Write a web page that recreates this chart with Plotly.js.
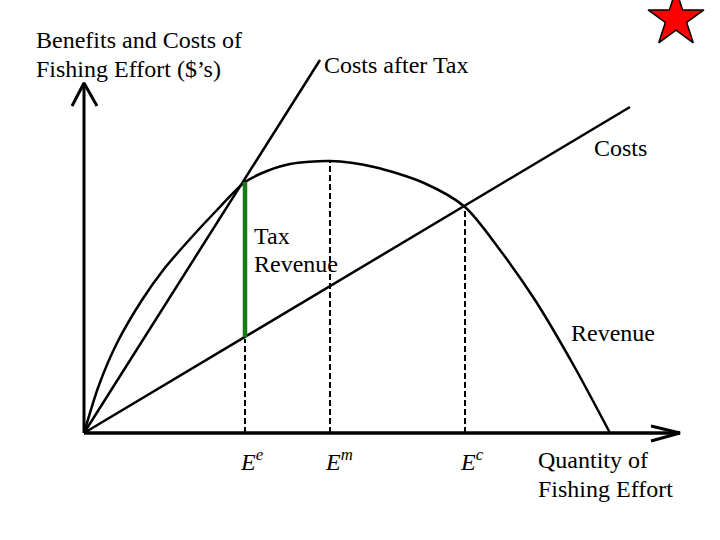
<!DOCTYPE html>
<html>
<head>
<meta charset="utf-8">
<script src="https://cdn.plot.ly/plotly-3.0.1.min.js"></script>
<style>html,body{margin:0;padding:0;background:#fff;}#chart{width:720px;height:540px;}</style>
</head>
<body>
<div id="chart"></div>
<script>
// Values in drawing units (origin at the axes' corner)
const revenueX = [0, 15, 33, 58, 80, 106, 133, 161, 183, 206, 246, 290, 340, 381, 416, 451, 490, 526];
const revenueY = [0, 48, 90, 133, 164, 194, 223, 251, 262, 269, 272, 266, 250, 226, 183, 133, 67, 0];
const costsX = [0, 546];
const costsY = [0, 326];
const taxCostsX = [0, 236];
const taxCostsY = [0, 373];
const effortNames = ["e", "m", "c"];
const effortX = [161, 246, 381];
const effortTop = [94, 272, 226];
const taxRevenueY = [96, 251];
const yAxisTop = 350;
const xAxisEnd = 596;

const black = "#000";
const traces = [];
const line = (x, y, w, extra) => ({
  x: x, y: y, mode: "lines", type: "scatter", hoverinfo: "skip",
  line: Object.assign({color: black, width: w}, extra || {})
});

// axes with arrows
traces.push(line([0, 0], [0, yAxisTop], 3));
traces.push(line([-12, 0, 13], [yAxisTop - 23, yAxisTop, yAxisTop - 23], 3));
traces.push(line([0, xAxisEnd], [0, 0], 3.5));
traces.push(line([xAxisEnd - 29, xAxisEnd, xAxisEnd - 29], [7, 0, -8], 3));

// dashed effort levels
effortX.forEach((x, i) => {
  traces.push(line([x, x], [0, effortTop[i]], 2, {dash: "6px,3px"}));
});

// revenue curve
traces.push(line(revenueX, revenueY, 2.5, {shape: "spline", smoothing: 0.8}));
// costs
traces.push(line(costsX, costsY, 2.5));
// costs after tax
traces.push(line(taxCostsX, taxCostsY, 2.5));
// tax revenue
traces.push(line([effortX[0], effortX[0]], taxRevenueY, 4.5, {color: "#177a17"}));

// star
traces.push({x: [592], y: [414], mode: "markers", type: "scatter", hoverinfo: "skip",
  marker: {symbol: "star", size: 42, color: "#ff0000", line: {color: black, width: 1.5}}});

const font = {family: "Liberation Serif, Times New Roman, serif", size: 24, color: black};
const ann = (x, y, text, extra) => Object.assign({
  x: x, y: y, xref: "x", yref: "y", text: text, showarrow: false,
  xanchor: "left", yanchor: "middle", align: "left", font: font
}, extra || {});

const annotations = [
  ann(-50, 393, "Benefits and Costs of"),
  ann(-50, 364, "Fishing Effort ($’s)"),
  ann(238, 368, "Costs after Tax"),
  ann(508, 285, "Costs"),
  ann(168, 197, "Tax"),
  ann(168, 169, "Revenue"),
  ann(485, 100, "Revenue"),
  ann(452, -27, "Quantity of"),
  ann(452, -56, "Fishing Effort")
];
effortNames.forEach((n, i) => {
  annotations.push(ann(effortX[i] - 7, -27, "<i>E<sup>" + n + "</sup></i>"));
});

const layout = {
  width: 720, height: 540,
  margin: {l: 0, r: 0, t: 0, b: 0},
  paper_bgcolor: "#fff", plot_bgcolor: "#fff",
  showlegend: false,
  xaxis: {range: [-84, 636], visible: false, fixedrange: true},
  yaxis: {range: [-107, 433], visible: false, fixedrange: true},
  annotations: annotations
};

Plotly.newPlot("chart", traces, layout, {staticPlot: true, displayModeBar: false});
</script>
</body>
</html>
